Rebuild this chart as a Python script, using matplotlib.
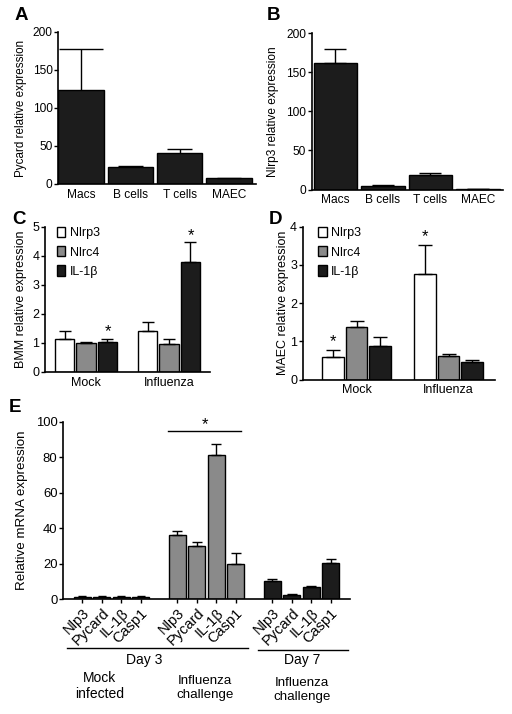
import matplotlib
matplotlib.use('Agg')
import matplotlib.pyplot as plt
import numpy as np
from matplotlib.lines import Line2D
from matplotlib.patches import Patch

plt.rcParams['font.family'] = ['Liberation Sans', 'DejaVu Sans']

# ---------------- data ----------------
a_cats = ['Macs', 'B cells', 'T cells', 'MAEC']
a_vals = [124, 22, 41, 7.5]
a_errs = [53, 1.5, 4.5, 1.0]

b_cats = ['Macs', 'B cells', 'T cells', 'MAEC']
b_vals = [162, 5, 18, 0.4]
b_errs = [17, 0.7, 3.5, 0.1]

cd_groups = ['Mock', 'Influenza']
cd_series = ['Nlrp3', 'Nlrc4', 'IL-1β']

c_nlrp3 = [1.12, 1.42]
c_nlrp3_err = [0.28, 0.30]
c_nlrc4 = [1.00, 0.97]
c_nlrc4_err = [0.03, 0.17]
c_il1b = [1.03, 3.77]
c_il1b_err = [0.11, 0.70]

d_nlrp3 = [0.58, 2.76]
d_nlrp3_err = [0.19, 0.75]
d_nlrc4 = [1.37, 0.62]
d_nlrc4_err = [0.15, 0.06]
d_il1b = [0.87, 0.46]
d_il1b_err = [0.24, 0.05]

e_genes = ['Nlp3', 'Pycard', 'IL-1β', 'Casp1']
e_mock = [1.2, 1.4, 1.2, 1.4]
e_mock_err = [0.4, 0.4, 0.4, 0.4]
e_flu3 = [36, 30, 81.5, 19.5]
e_flu3_err = [2.7, 2.0, 5.8, 6.4]
e_flu7 = [10, 2.5, 6.8, 20.5]
e_flu7_err = [1.2, 0.3, 0.8, 2.0]

# ---------------- figure ----------------
W, H = 512, 714
fig = plt.figure(figsize=(W / 100, H / 100), dpi=100)

WHITE = 'white'
GREY = '#8a8a8a'
BLACK = '#1c1c1c'


def axes_px(l, t, r, b):
    return fig.add_axes([l / W, 1 - b / H, (r - l) / W, (b - t) / H])


def style(ax, fs, xfs=None, xticks=False, xpad=3.5):
    for s in ['top', 'right']:
        ax.spines[s].set_visible(False)
    for s in ['left', 'bottom']:
        ax.spines[s].set_linewidth(1.2)
    ax.tick_params(axis='y', direction='out', length=3, width=1, labelsize=fs, pad=1)
    ax.tick_params(axis='x', direction='out', length=3 if xticks else 0, width=1,
                   labelsize=xfs or fs, pad=xpad)


def bars(ax, x, vals, errs, width, color, capsize):
    ax.bar(x, vals, width, color=color, edgecolor='black', linewidth=1, zorder=2)
    ax.errorbar(x, vals, yerr=[np.zeros(len(vals)), errs], fmt='none', ecolor='black',
                elinewidth=1, capsize=capsize, capthick=1, zorder=3)


def ylabel_at(ax, text, xpx, l, r, fs):
    ax.set_ylabel(text, fontsize=fs)
    ax.yaxis.set_label_coords((xpx - l) / (r - l), 0.5)


# ---------- Panel A ----------
l, t, r, b = 58, 32, 256, 184
axA = axes_px(l, t, r, b)
xa = np.arange(len(a_cats))
axA.bar(xa, a_vals, 0.925, color=BLACK, edgecolor='black', linewidth=1, zorder=2)
axA.errorbar(xa, a_vals, yerr=[np.zeros(4), a_errs], fmt='none', ecolor='black',
             elinewidth=1, capsize=0, zorder=3)
capw = [0.44, 0.25, 0.25, 0.25]
for xi, v, e, cw in zip(xa, a_vals, a_errs, capw):
    axA.hlines(v + e, xi - cw, xi + cw, color='black', lw=1, zorder=3)
axA.set_xlim(-0.47, 3.55)
axA.set_ylim(0, 200)
axA.set_yticks([0, 50, 100, 150, 200])
axA.set_xticks(xa)
axA.set_xticklabels(a_cats)
style(axA, 8.6)
ylabel_at(axA, 'Pycard relative expression', 27, l, r, 8.4)

# ---------- Panel B ----------
l, t, r, b = 311.5, 33, 503, 189.5
axB = axes_px(l, t, r, b)
xb = np.arange(len(b_cats))
bars(axB, xb, b_vals, b_errs, 0.92, BLACK, 8)
axB.set_xlim(-0.505, 3.53)
axB.set_ylim(0, 200)
axB.set_yticks([0, 50, 100, 150, 200])
axB.set_xticks(xb)
axB.set_xticklabels(b_cats)
style(axB, 8.6)
ylabel_at(axB, 'Nlrp3 relative expression', 279, l, r, 8.6)

# ---------- Panel C ----------
l, t, r, b = 45, 226.7, 210, 372
axC = axes_px(l, t, r, b)
xg = np.arange(len(cd_groups))
off, w = 0.259, 0.229
bars(axC, xg - off, c_nlrp3, c_nlrp3_err, w, WHITE, 4.5)
bars(axC, xg, c_nlrc4, c_nlrc4_err, w, GREY, 4.5)
bars(axC, xg + off, c_il1b, c_il1b_err, w, BLACK, 4.5)
for xi, top in zip(xg + off, np.array(c_il1b) + np.array(c_il1b_err)):
    axC.text(xi, top - 0.02, '*', ha='center', va='bottom', fontsize=12)
axC.set_xlim(-0.494, 1.494)
axC.set_ylim(0, 5)
axC.set_yticks([0, 1, 2, 3, 4, 5])
axC.set_xticks(xg)
axC.set_xticklabels(cd_groups)
style(axC, 9)
ylabel_at(axC, 'BMM relative expression', 27, l, r, 9)
handles = [Patch(facecolor=c, edgecolor='black', linewidth=1) for c in (WHITE, GREY, BLACK)]
axC.legend(handles, cd_series, loc='upper left', bbox_to_anchor=(0.07, 1.0),
           frameon=False, fontsize=9, handlelength=0.7, handleheight=0.9,
           handletextpad=0.35, labelspacing=0.55, borderaxespad=0, borderpad=0)

# ---------- Panel D ----------
l, t, r, b = 302.7, 226.7, 495, 379.5
axD = axes_px(l, t, r, b)
off, w = 0.255, 0.234
bars(axD, xg - off, d_nlrp3, d_nlrp3_err, w, WHITE, 5)
bars(axD, xg, d_nlrc4, d_nlrc4_err, w, GREY, 5)
bars(axD, xg + off, d_il1b, d_il1b_err, w, BLACK, 5)
for xi, top in zip(xg - off, np.array(d_nlrp3) + np.array(d_nlrp3_err)):
    axD.text(xi, top + 0.03, '*', ha='center', va='bottom', fontsize=12)
axD.set_xlim(-0.585, 1.505)
axD.set_ylim(0, 4)
axD.set_yticks([0, 1, 2, 3, 4])
axD.set_xticks(xg)
axD.set_xticklabels(cd_groups)
style(axD, 9)
ylabel_at(axD, 'MAEC relative expression', 289, l, r, 9)
axD.legend(handles, cd_series, loc='upper left', bbox_to_anchor=(0.08, 1.0),
           frameon=False, fontsize=9, handlelength=0.7, handleheight=0.9,
           handletextpad=0.35, labelspacing=0.55, borderaxespad=0, borderpad=0)

# ---------- Panel E ----------
l, t, r, b = 63, 422, 350, 599
axE = axes_px(l, t, r, b)
base = np.arange(len(e_genes))
x_mock = base
x_flu3 = base + 4.9
x_flu7 = base + 9.8
ew = 0.87
bars(axE, x_mock, e_mock, e_mock_err, ew, GREY, 3)
bars(axE, x_flu3, e_flu3, e_flu3_err, ew, GREY, 3.5)
bars(axE, x_flu7, e_flu7, e_flu7_err, ew, BLACK, 3.5)
axE.set_xlim(-1.0, 13.8)
axE.set_ylim(0, 100)
axE.set_yticks([0, 20, 40, 60, 80, 100])
allx = np.concatenate([x_mock, x_flu3, x_flu7])
axE.set_xticks(allx)
axE.set_xticklabels(e_genes * 3, rotation=45, ha='right', rotation_mode='anchor')
style(axE, 9.4, xfs=10.5, xticks=True, xpad=2)
ylabel_at(axE, 'Relative mRNA expression', 28, l, r, 9.6)
axE.plot([x_flu3[0] - 0.5, x_flu3[-1] + 0.3], [95, 95], color='black', lw=1,
         clip_on=False)
axE.text((x_flu3[0] + x_flu3[-1]) / 2 - 0.1, 94.5, '*', ha='center', va='bottom',
         fontsize=12)


def fline(x0, x1, y):
    fig.add_artist(Line2D([x0 / W, x1 / W], [1 - y / H, 1 - y / H], color='black', lw=1))


def ftext(x, y, s, **kw):
    fig.text(x / W, 1 - y / H, s, ha='center', va='center', **kw)


fline(67, 248, 648)
fline(258, 348, 650)
ftext(144, 660, 'Day 3', fontsize=10)
ftext(302, 660, 'Day 7', fontsize=10)
ftext(100, 686, 'Mock\ninfected', fontsize=10, linespacing=1.2)
ftext(205, 688, 'Influenza\nchallenge', fontsize=9.6, linespacing=1.3)
ftext(302, 690, 'Influenza\nchallenge', fontsize=9.6, linespacing=1.3)

for s, (x, y) in zip('ABCDE', [(21, 16), (273, 16), (19, 219), (275, 220), (15, 407)]):
    ftext(x, y, s, fontsize=13.5, fontweight='bold')

fig.savefig('out.png', dpi=100)
